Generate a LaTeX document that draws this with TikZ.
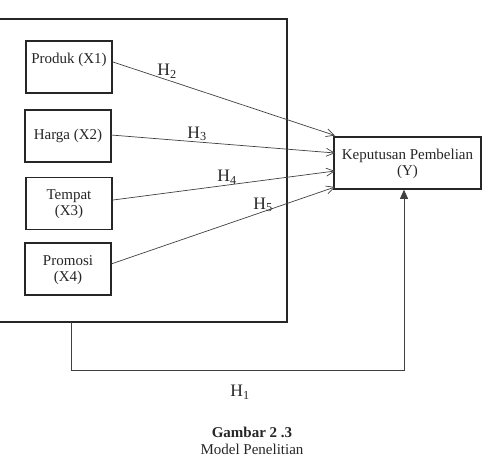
\documentclass[tikz,border=0pt]{standalone}
\usepackage{fontspec}
\setmainfont{Liberation Serif}
\usetikzlibrary{arrows.meta,calc}
\begin{document}
\begin{tikzpicture}[x=1pt,y=-1pt,
  box/.style={draw=black!85, line width=1.6pt, minimum width=86pt, minimum height=52pt, inner sep=0pt},
  txt/.style={font=\fontsize{15}{16.5}\selectfont, align=center, inner sep=0pt, text=black!85},
  hlab/.style={font=\fontsize{17.5}{20}\selectfont, inner sep=0pt, text=black!85},
  conn/.style={draw=black!75, line width=0.7pt},
  barb/.style={-{Straight Barb[length=8pt,width=8pt,line width=0.7pt]}}
]
\useasboundingbox (0,0) rectangle (487,458);
% outer box
\node[draw=black!85, line width=1.6pt, minimum width=289pt, minimum height=303pt, inner sep=0pt] (outer) at (142.5,170.5) {};
% independent variables
\node[box] (x1) at (69,67) {};
\node[txt] (x1t) at (69,60) {Produk (X1)};
\node[box] (x2) at (68,136) {};
\node[txt] (x2t) at (68,136) {Harga (X2)};
\node[box] (x3) at (69,203.5) {};
\node[txt] (x3t) at (69,204) {Tempat\\(X3)};
\node[box] (x4) at (68,269) {};
\node[txt] (x4t) at (68,270) {Promosi\\(X4)};
% dependent variable
\node[box, minimum width=147pt] (y) at (407.5,163) {};
\node[txt] (yt) at (407.5,164) {Keputusan Pembelian\\(Y)};
% arrows
\coordinate (s1) at (113,62);
\coordinate (e1) at (335,135.5);
\coordinate (s2) at (111,135);
\coordinate (e2) at (335,153);
\coordinate (s3) at (113,200);
\coordinate (e3) at (335,171);
\coordinate (s4) at (111,264);
\coordinate (e4) at (335,187);
\draw[conn,barb] (s1) -- (e1);
\draw[conn,barb] (s2) -- (e2);
\draw[conn,barb] (s3) -- (e3);
\draw[conn,barb] (s4) -- (e4);
\node[hlab] (h2) at (167,71) {H\textsubscript{2}};
\node[hlab] (h3) at (197,134) {H\textsubscript{3}};
\node[hlab] (h4) at (227,177) {H\textsubscript{4}};
\node[hlab] (h5) at (263,205) {H\textsubscript{5}};
% bottom connector
\coordinate (b0) at (71,322);
\coordinate (b1) at (71,370);
\coordinate (b2) at (404,370);
\draw[conn, -{Triangle[length=9pt,width=8pt]}] (b0) -- (b1) -- (b2) -- (b2 |- y.south);
\node[hlab] (h1) at (240,392) {H\textsubscript{1}};
% caption
\node[txt, font=\bfseries\fontsize{15}{17}\selectfont] (cap1) at (252,432) {Gambar 2 .3};
\node[txt] (cap2) at (252,449) {Model Penelitian};
\end{tikzpicture}
\end{document}
